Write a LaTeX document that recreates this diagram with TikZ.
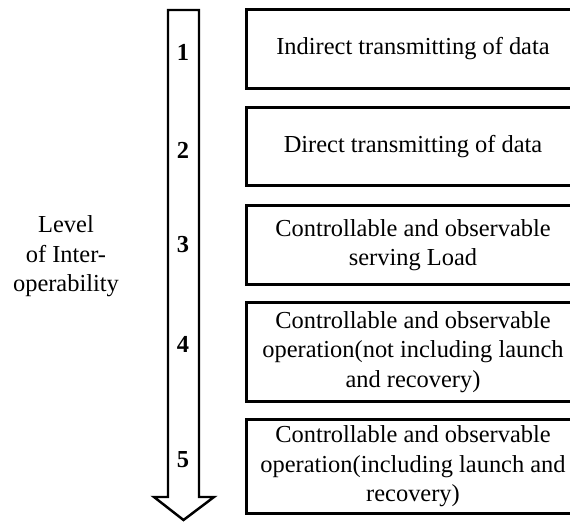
\documentclass[tikz,border=0pt]{standalone}
\usepackage{fontspec}
\setmainfont{Liberation Serif}
\usetikzlibrary{positioning}

\begin{document}
\begin{tikzpicture}[
        lvlbox/.style={minimum width=6.64cm, align=center,
                       font=\fontsize{13.9}{16.8}\selectfont},
        num/.style={font=\fontsize{13.9}{16.8}\selectfont\bfseries},
        lab/.style={align=center, font=\fontsize{13.9}{16.8}\selectfont},
        frame/.style={line width=1.4pt}
    ]
        \useasboundingbox (0,0) rectangle (11.4,-10.48);
        \clip (0,0) rectangle (11.4,-10.48);
        % the downward arrow
        \draw[frame] (3.36,-0.2) -- (3.98,-0.2) -- (3.98,-9.94) -- (4.28,-9.94)
            -- (3.67,-10.4) -- (3.08,-9.94) -- (3.36,-9.94) -- cycle;
        \node[num] (num1) at (3.66,-1.04) {1};
        \node[num] (num2) at (3.66,-3.0) {2};
        \node[num] (num3) at (3.66,-4.9) {3};
        \node[num] (num4) at (3.66,-6.88) {4};
        \node[num] (num5) at (3.66,-9.2) {5};
        \node[lab] (level) at (1.32,-5.13) {Level\\ of Inter-\\ operability};
        % the five levels
        \node[lvlbox, minimum height=1.56cm] (lvl1) at (8.26,-0.98) {Indirect transmitting of data};
        \node[lvlbox, minimum height=1.54cm] (lvl2) at (8.26,-2.93) {Direct transmitting of data};
        \node[lvlbox, minimum height=1.56cm] (lvl3) at (8.26,-4.9) {Controllable and observable\\ serving Load};
        \node[lvlbox, minimum height=1.96cm] (lvl4) at (8.26,-7.04) {Controllable and observable\\ operation(not including launch\\ and recovery)};
        \node[lvlbox, minimum height=1.82cm] (lvl5) at (8.26,-9.33) {Controllable and observable\\ operation(including launch and\\ recovery)};
        % boxes run off the right edge
        \foreach \b in {lvl1,lvl2,lvl3,lvl4,lvl5}
            \draw[frame] (\b.north east) -- (\b.north west) -- (\b.south west) -- (\b.south east);
    \end{tikzpicture}
\end{document}
